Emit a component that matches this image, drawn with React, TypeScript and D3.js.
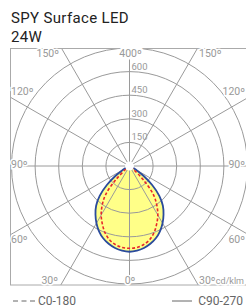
import React from "react";
import * as d3 from "d3";

// polar intensity curve, cd/klm, angle measured from nadir (0 = straight down)
const angles = [0, 5, 10, 15, 20, 25, 30, 35, 40, 45, 50, 55, 60, 65, 70, 75, 80, 85, 90];
const c0180 = [523, 520, 508, 487, 453, 408, 360, 302, 235, 122, 32, 10, 4, 2, 0, 0, 0, 0, 0];
const c90270 = [545, 540, 529, 512, 489, 458, 420, 377, 330, 268, 188, 108, 48, 25, 14, 8, 4, 2, 0];

const ringValues = [150, 300, 450, 600, 750];
const ringLabels = ["150", "300", "450", "600"];
const spokeAngles = [0, 30, 60, 90, 120, 150, 180, 210, 240, 270, 300, 330];

const W = 246;
const H = 307;
const cx = 129.5;
const cy = 166;
const box = { x: 10.5, y: 48.5, w: 245, h: 236.5 };

const App = () => {
  const r = d3.scaleLinear().domain([0, 750]).range([0, 118]);
  const rad = (deg: number) => (deg * Math.PI) / 180;

  // both halves of a plane, left side then right side
  const planePoints = (vals: number[]) => {
    const left = angles.map((a, i) => [Math.PI + rad(a), r(vals[i])] as [number, number]).reverse();
    const right = angles.map((a, i) => [Math.PI - rad(a), r(vals[i])] as [number, number]);
    return left.concat(right.slice(1));
  };

  const radial = d3
    .lineRadial<[number, number]>()
    .angle((d) => d[0])
    .radius((d) => d[1])
    .curve(d3.curveCatmullRom);

  const pathC0 = radial(planePoints(c0180)) || "";
  const pathC90 = radial(planePoints(c90270)) || "";

  const grey = "#9a9a9a";
  const labelFont = { fontFamily: "Roboto", fontSize: 10.5, fill: "#999" };
  const halo = { stroke: "#fff", strokeWidth: 3, paintOrder: "stroke" as const };

  return (
    <svg width={W} height={H} style={{ position: "absolute", left: 0, top: 0 }}>
      <defs>
        <clipPath id="boxclip">
          <rect x={box.x} y={box.y} width={box.w} height={box.h} />
        </clipPath>
      </defs>
      <text x={11} y={23} style={{ fontFamily: "Roboto", fontSize: 15, letterSpacing: 0.35, fill: "#222" }}>SPY Surface LED</text>
      <text x={11} y={42} style={{ fontFamily: "Roboto", fontSize: 15, letterSpacing: 0.35, fill: "#222" }}>24W</text>

      <g transform={`translate(${cx},${cy})`}>
        <path d={pathC90} fill="#ffff88" stroke="none" />
      </g>

      <g clipPath="url(#boxclip)">
        <g transform={`translate(${cx},${cy})`}>
          {ringValues.map((v) => (
            <circle key={v} r={r(v)} fill="none" stroke={grey} strokeWidth={1} />
          ))}
          {spokeAngles.map((a) => {
            const [x, y] = d3.pointRadial(Math.PI - rad(a), 220);
            return <line key={a} x1={0} y1={0} x2={x} y2={y} stroke={grey} strokeWidth={1} />;
          })}
        </g>
      </g>
      <rect x={box.x} y={box.y} width={box.w} height={box.h} fill="none" stroke="#aaa" strokeWidth={1} />

      <g transform={`translate(${cx},${cy})`}>
        <path d={pathC90} fill="none" stroke="#2b4b9c" strokeWidth={1.8} />
        <path d={pathC0} fill="none" stroke="#e8262a" strokeWidth={1.6} strokeDasharray="3,2" />
        <circle r={4.5} fill="#fff" stroke="none" />
        {ringLabels.map((t, i) => (
          <text key={t} x={2} y={-r(ringValues[i]) - 2} style={{ ...labelFont, fontSize: 9.5 }}>
            {t}
          </text>
        ))}
      </g>

      {/* angle labels */}
      <g style={labelFont}>
        <text x={59} y={57} textAnchor="end" style={halo}>150º</text>
        <text x={130.5} y={57} textAnchor="middle" style={{ ...halo, strokeWidth: 5 }}>400º</text>
        <text x={199} y={57} style={halo}>150º</text>
        <text x={11} y={95} style={halo}>120º</text>
        <text x={245} y={95} textAnchor="end" style={halo}>120º</text>
        <text x={11} y={168} style={halo}>90º</text>
        <text x={245} y={168} textAnchor="end" style={halo}>90º</text>
        <text x={11} y={243} style={halo}>60º</text>
        <text x={245} y={243} textAnchor="end" style={halo}>60º</text>
        <text x={58} y={284} textAnchor="end" style={halo}>30º</text>
        <text x={130} y={284} textAnchor="middle" style={halo}>0º</text>
        <text x={199} y={284} style={halo}>30º</text>
        <text x={244} y={284} textAnchor="end" style={{ ...halo, fontSize: 9 }}>cd/klm</text>
      </g>

      {/* legend */}
      <line x1={13} x2={35} y1={301} y2={301} stroke="#666" strokeWidth={1} strokeDasharray="5,3.5" />
      <text x={38} y={305} style={{ fontFamily: "Roboto", fontSize: 12, fill: "#666" }}>C0-180</text>
      <line x1={172} x2={192} y1={301} y2={301} stroke="#666" strokeWidth={1} />
      <text x={243} y={305} textAnchor="end" style={{ fontFamily: "Roboto", fontSize: 12, fill: "#666" }}>C90-270</text>
    </svg>
  );
};

export default App;
